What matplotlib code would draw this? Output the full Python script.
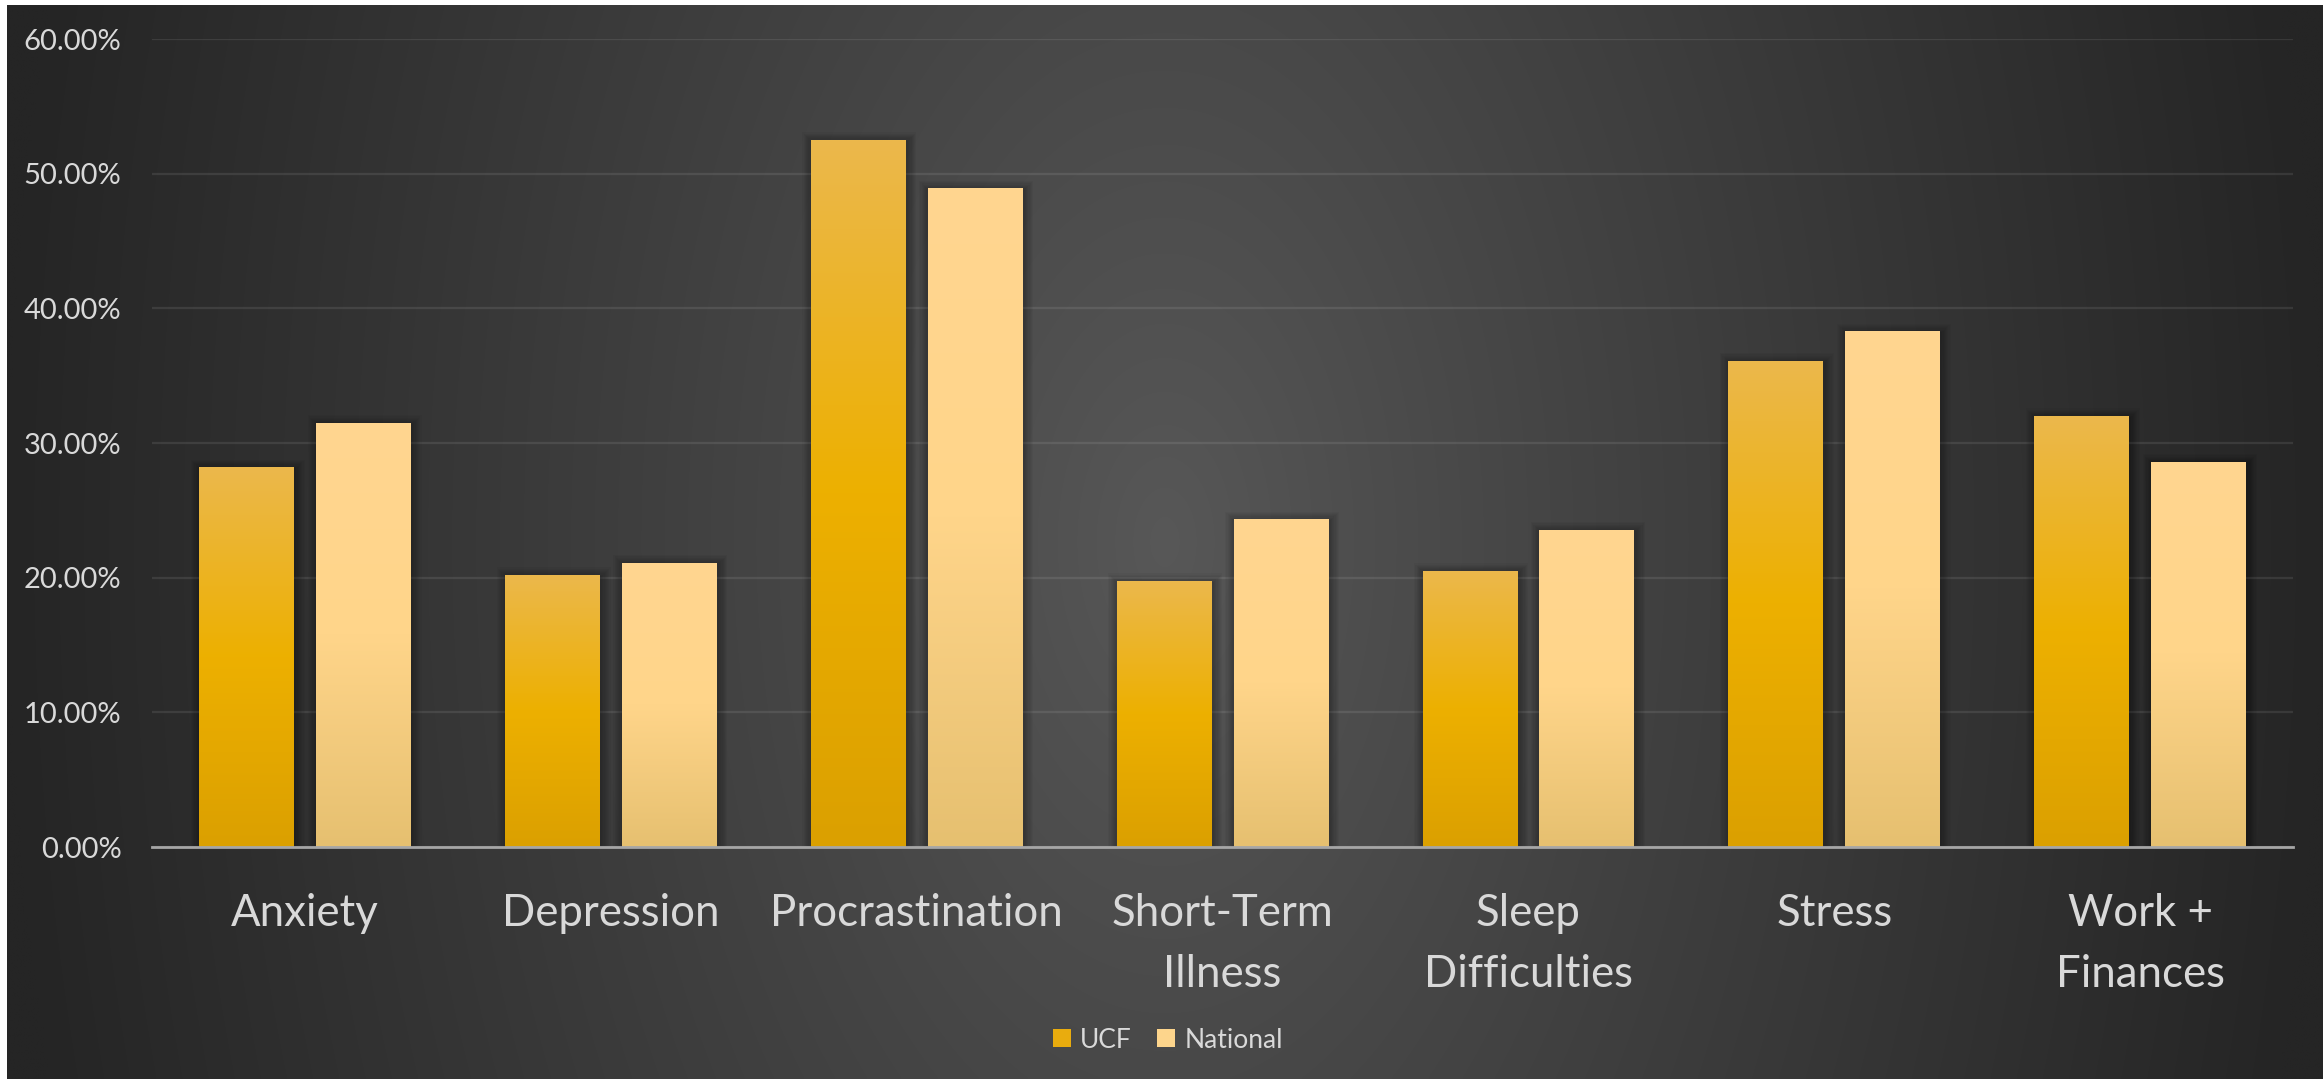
import numpy as np
import matplotlib
matplotlib.use("Agg")
import matplotlib.pyplot as plt
from matplotlib.colors import LinearSegmentedColormap, to_rgb
from matplotlib.patches import Rectangle, Patch

plt.rcParams['font.family'] = ['Lato', 'DejaVu Sans']

categories = ['Anxiety', 'Depression', 'Procrastination', 'Short-Term\nIllness',
              'Sleep\nDifficulties', 'Stress', 'Work +\nFinances']
ucf = [28.2, 20.2, 52.5, 19.75, 20.5, 36.1, 32.0]
national = [31.5, 21.1, 48.9, 24.35, 23.55, 38.3, 28.6]
series_names = ['UCF', 'National']
yticks = [0, 10, 20, 30, 40, 50, 60]

W, H = 2323, 1079
fig = plt.figure(figsize=(W / 100, H / 100), dpi=100, facecolor='white')

# dark background, light in the middle column, dark at the sides
bg = fig.add_axes([7 / W, 0, 1 - 7 / W, 1 - 5 / H])
bg.set_axis_off()
yy, xx = np.mgrid[0:1:300j, 0:1:600j]
r = np.sqrt(((xx - 0.5) / 0.5) ** 2 + (0.27 * (yy - 0.5) / 0.5) ** 2)
r = np.clip(r, 0, 1) ** 0.9
c_in, c_out = np.array(to_rgb('#585858')), np.array(to_rgb('#252525'))
img = c_in[None, None, :] * (1 - r[..., None]) + c_out[None, None, :] * r[..., None]
bg.imshow(img, aspect='auto', extent=(0, 1, 0, 1), interpolation='bilinear')
bg.set_xlim(0, 1)
bg.set_ylim(0, 1)

ax = fig.add_axes([152 / W, 1 - 847 / H, (2293 - 152) / W, (847 - 39) / H])
ax.patch.set_alpha(0)

x = np.arange(len(categories))
bw = 0.31
off = 0.191

cmap_ucf = LinearSegmentedColormap.from_list('ucf', ['#DBA000', '#EDB000', '#EBB84C'])
cmap_nat = LinearSegmentedColormap.from_list('nat', ['#E6C070', '#FFD58A', '#FFD690'])

grad = np.linspace(0, 1, 256)[:, None]


def draw_bars(xs, vals, cmap):
    bars = ax.bar(xs, vals, width=bw, color='none', zorder=3)
    for b in bars:
        x0, w, h = b.get_x(), b.get_width(), b.get_height()
        # soft shadow
        for k in range(1, 9):
            dx = k * 1.2 / 305.9
            dy = k * 1.2 / 13.47
            ax.add_patch(Rectangle((x0 - dx + 0.004, 0), w + 2 * dx, h + dy - 0.15,
                                   facecolor='black', edgecolor='none',
                                   alpha=0.035, zorder=2))
        im = ax.imshow(grad, cmap=cmap, origin='lower', aspect='auto',
                       extent=(x0, x0 + w, 0, h), zorder=3)
        im.set_clip_path(b)
    return bars


draw_bars(x - off, ucf, cmap_ucf)
draw_bars(x + off, national, cmap_nat)

ax.set_xlim(-0.5, len(categories) - 0.5)
ax.set_ylim(0, 60)
ax.set_yticks(yticks)
ax.set_yticklabels(['{:.2f}%'.format(v) for v in yticks])
ax.set_xticks(x)
ax.set_xticklabels(categories, linespacing=1.6)
ax.tick_params(axis='y', length=0, pad=22, labelsize=21, labelcolor='#d9d9d9')
ax.tick_params(axis='x', length=0, pad=33, labelsize=31.5, labelcolor='#d9d9d9')
for lab in ax.get_xticklabels():
    lab.set_verticalalignment('top')

ax.grid(axis='y', color='#ffffff', alpha=0.09, linewidth=1.6, zorder=1)
ax.set_axisbelow(True)
for s in ['top', 'right', 'left']:
    ax.spines[s].set_visible(False)
ax.spines['bottom'].set_color('#a6a6a6')
ax.spines['bottom'].set_linewidth(2)
ax.spines['bottom'].set_zorder(4)

handles = [Patch(facecolor='#E9AC0E', edgecolor='none'),
           Patch(facecolor='#FDD58C', edgecolor='none')]
fig.legend(handles, series_names, loc='center', bbox_to_anchor=(1168 / W, 1 - 1040 / H),
           ncol=2, frameon=False, fontsize=19, labelcolor='#d9d9d9',
           handlelength=0.68, handleheight=0.68, handletextpad=0.35, columnspacing=0.95)

fig.savefig('out.png', dpi=100, facecolor='white')
